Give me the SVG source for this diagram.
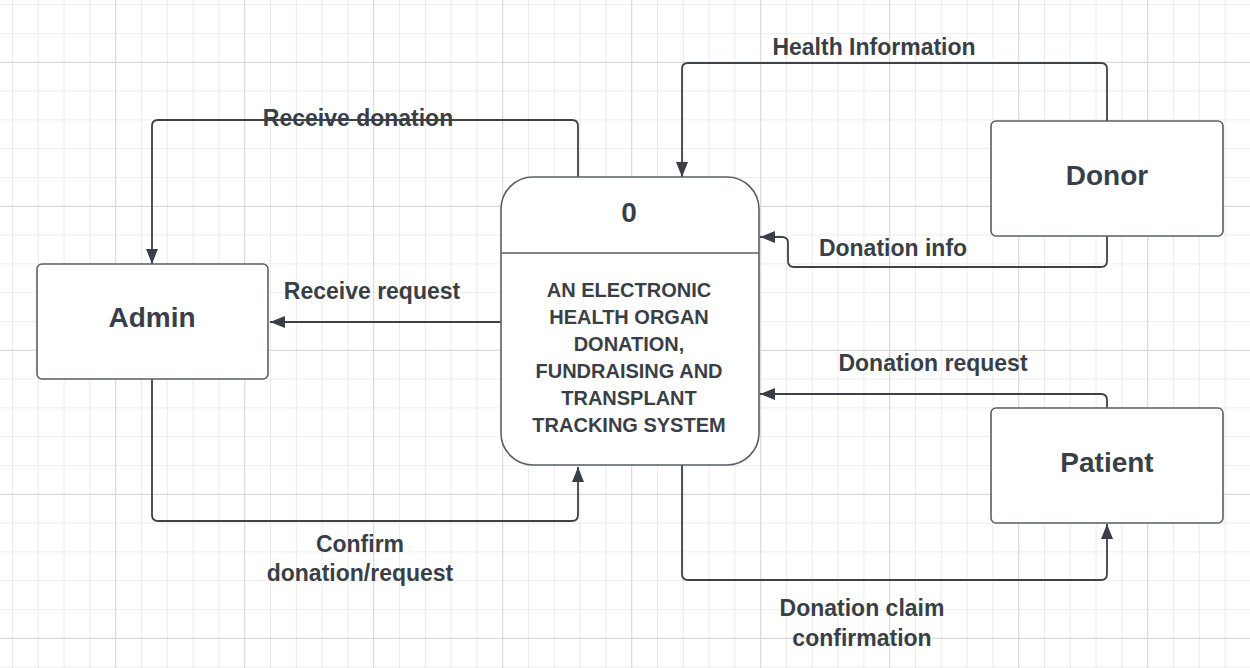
<svg xmlns="http://www.w3.org/2000/svg" width="1250" height="668" viewBox="0 0 1250 668">
<defs>
<pattern id="minor" patternUnits="userSpaceOnUse" x="12" y="4.2" width="25.8" height="28.8">
<path d="M0,0 V28.8 M0,0 H25.8" fill="none" stroke="#dedede" stroke-width="1.2"/>
</pattern>
<pattern id="major" patternUnits="userSpaceOnUse" x="115.2" y="61.8" width="129" height="144">
<path d="M0,0 V144 M0,0 H129" fill="none" stroke="#cdcdcd" stroke-width="1.3"/>
</pattern>
<marker id="arr" markerUnits="userSpaceOnUse" markerWidth="15" markerHeight="12" refX="15" refY="6" orient="auto">
<path d="M0,0 L15,6 L0,12 z" fill="#3a3f47"/>
</marker>
<style>
.node{fill:#ffffff;stroke:#5a5f66;stroke-width:1.6}
.conn{fill:none;stroke:#3d4148;stroke-width:1.8;marker-end:url(#arr)}
.lbl{font-family:"Liberation Sans",Arial,sans-serif;font-weight:bold;font-size:23px;fill:#3a3f47;text-anchor:middle}
.ntxt{font-family:"Liberation Sans",Arial,sans-serif;font-weight:bold;font-size:28px;fill:#3a3f47;text-anchor:middle}
.ptxt{font-family:"Liberation Sans",Arial,sans-serif;font-weight:bold;font-size:20px;fill:#3a3f47;text-anchor:middle}
</style>
</defs>
<rect width="1250" height="668" fill="#ffffff"/>
<rect x="0" y="0" width="1250" height="668" fill="url(#minor)"/>
<rect x="0" y="0" width="1250" height="668" fill="url(#major)"/>

<g id="connectors">
<path class="conn" d="M578,177 V126 Q578,120 572,120 H158 Q152,120 152,126 V264"/>
<path class="conn" d="M501,322 H270"/>
<path class="conn" d="M152,379 V515 Q152,521 158,521 H572 Q578,521 578,515 V467"/>
<path class="conn" d="M1107,121 V69 Q1107,63 1101,63 H688 Q682,63 682,69 V177"/>
<path class="conn" d="M1107,236 V261 Q1107,267 1101,267 H794 Q788,267 788,261 V243 Q788,237 782,237 H760"/>
<path class="conn" d="M1107,408 V400 Q1107,394 1101,394 H760"/>
<path class="conn" d="M682,465 V574 Q682,580 688,580 H1101 Q1107,580 1107,574 V524"/>
<text class="lbl" x="358" y="126">Receive donation</text>
<text class="lbl" x="372" y="299">Receive request</text>
<text class="lbl" x="360" y="552">Confirm</text>
<text class="lbl" x="360" y="581">donation/request</text>
<text class="lbl" x="874" y="55">Health Information</text>
<text class="lbl" x="893" y="256">Donation info</text>
<text class="lbl" x="933" y="371">Donation request</text>
<text class="lbl" x="862" y="616">Donation claim</text>
<text class="lbl" x="862" y="646">confirmation</text>
</g>

<g id="admin">
<rect class="node" x="37" y="264" width="231" height="115" rx="5"/>
<text class="ntxt" x="152" y="327">Admin</text>
</g>

<g id="process">
<rect class="node" x="501" y="177" width="258" height="288" rx="32"/>
<line x1="501" y1="253" x2="759" y2="253" stroke="#5a5f66" stroke-width="1.6"/>
<text class="ntxt" x="629" y="222">0</text>
<text class="ptxt" x="629" y="297">AN ELECTRONIC</text>
<text class="ptxt" x="629" y="324">HEALTH ORGAN</text>
<text class="ptxt" x="629" y="351">DONATION,</text>
<text class="ptxt" x="629" y="378">FUNDRAISING AND</text>
<text class="ptxt" x="629" y="405">TRANSPLANT</text>
<text class="ptxt" x="629" y="432">TRACKING SYSTEM</text>
</g>

<g id="donor">
<rect class="node" x="991" y="121" width="232" height="115" rx="5"/>
<text class="ntxt" x="1107" y="185">Donor</text>
</g>

<g id="patient">
<rect class="node" x="991" y="408" width="232" height="115" rx="5"/>
<text class="ntxt" x="1107" y="472">Patient</text>
</g>
</svg>
